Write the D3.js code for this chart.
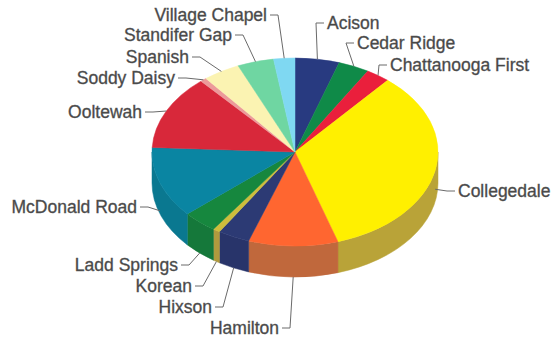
<!DOCTYPE html>
<html>
<head>
<meta charset="utf-8">
<script src="https://cdn.jsdelivr.net/npm/d3@7/dist/d3.min.js"></script>
<style>
  html, body { margin: 0; padding: 0; background: #fff; }
  svg { display: block; }
  .lbl { font-family: "Liberation Sans", Arial, sans-serif; font-size: 17.5px; fill: #464646; stroke: #5a5a5a; stroke-width: 0.35px; }
  .leader { fill: none; stroke: #6a6a6a; stroke-width: 1; }
</style>
</head>
<body>
<svg id="chart" width="551" height="338"></svg>
<script>
// Congregations, clockwise from 12 o'clock
const categories = [
  "Acison", "Cedar Ridge", "Chattanooga First", "Collegedale", "Hamilton",
  "Hixson", "Korean", "Ladd Springs", "McDonald Road", "Ooltewah",
  "Soddy Daisy", "Spanish", "Standifer Gap", "Village Chapel"
];
// Share of total (%)
const shares = [5.0, 3.5, 2.7, 33.9, 10.1, 3.6, 0.8, 3.9, 12.2, 12.8, 0.7, 4.2, 4.1, 2.4];

const topColors = [
  "#283a80", "#0f8a48", "#ea1f3c", "#fff000", "#ff6630",
  "#2c3a74", "#cdbd3c", "#16873e", "#0a85a2", "#d8283a",
  "#ec9a9a", "#fbf3b2", "#6fd6a2", "#7fd8f2"
];
const sideColors = [
  "#1f2f6a", "#0c7038", "#b81a30", "#b9a338", "#c0683c",
  "#28346a", "#b09a3e", "#15783a", "#0a7890", "#a82030",
  "#c07a7a", "#cfc890", "#52b080", "#5fb0c8"
];

// Label placement: x is the text edge next to the leader, y the text middle
const labelLayout = [
  { name: "Acison",            x: 327, y: 23,  side: "right" },
  { name: "Cedar Ridge",       x: 357, y: 43,  side: "right" },
  { name: "Chattanooga First", x: 390, y: 65,  side: "right" },
  { name: "Collegedale",       x: 458, y: 191, side: "right", drop: 0.6 },
  { name: "Hamilton",          x: 279, y: 328, side: "left",  drop: 1 },
  { name: "Hixson",            x: 212, y: 307, side: "left",  drop: 1 },
  { name: "Korean",            x: 192, y: 286, side: "left",  drop: 1 },
  { name: "Ladd Springs",      x: 178, y: 265, side: "left",  drop: 1 },
  { name: "McDonald Road",     x: 137, y: 207, side: "left",  drop: 0.9 },
  { name: "Ooltewah",          x: 142, y: 112, side: "left" },
  { name: "Soddy Daisy",       x: 175, y: 78,  side: "left" },
  { name: "Spanish",           x: 189, y: 57,  side: "left" },
  { name: "Standifer Gap",     x: 232, y: 35,  side: "left" },
  { name: "Village Chapel",    x: 267, y: 15,  side: "left" }
];

const cx = 295, cy = 152, rx = 143, ry = 94, depth = 31;

const svg = d3.select("#chart");

const topColor = d3.scaleOrdinal(categories, topColors);
const sideColor = d3.scaleOrdinal(categories, sideColors);

const data = categories.map((c, i) => ({ name: c, value: shares[i] }));
const arcs = d3.pie().sort(null).value(d => d.value).startAngle(0).endAngle(2 * Math.PI)(data);

// Point on the tilted rim for angle a (clockwise from top)
function pt(a, dy = 0) {
  return [cx + rx * Math.sin(a), cy - ry * Math.cos(a) + dy];
}

function topPath(a0, a1) {
  const p0 = pt(a0), p1 = pt(a1);
  const large = (a1 - a0) > Math.PI ? 1 : 0;
  return `M${cx},${cy}L${p0[0]},${p0[1]}A${rx},${ry} 0 ${large} 1 ${p1[0]},${p1[1]}Z`;
}

function sidePath(a0, a1) {
  const s0 = Math.max(a0, Math.PI / 2), s1 = Math.min(a1, 3 * Math.PI / 2);
  if (s1 <= s0) return null;
  const p0 = pt(s0), p1 = pt(s1), q1 = pt(s1, depth), q0 = pt(s0, depth);
  return `M${p0[0]},${p0[1]}A${rx},${ry} 0 0 1 ${p1[0]},${p1[1]}` +
         `L${q1[0]},${q1[1]}A${rx},${ry} 0 0 0 ${q0[0]},${q0[1]}Z`;
}

// Outer walls first, then the top faces
svg.append("g").selectAll("path")
  .data(arcs.filter(d => sidePath(d.startAngle, d.endAngle)))
  .join("path")
  .attr("d", d => sidePath(d.startAngle, d.endAngle))
  .attr("fill", d => sideColor(d.data.name))
  .attr("stroke", d => sideColor(d.data.name))
  .attr("stroke-width", 0.5);

svg.append("g").selectAll("path")
  .data(arcs)
  .join("path")
  .attr("d", d => topPath(d.startAngle, d.endAngle))
  .attr("fill", d => topColor(d.data.name))
  .attr("stroke", d => topColor(d.data.name))
  .attr("stroke-width", 0.5);

// Labels with elbow leader lines
const byName = new Map(arcs.map(d => [d.data.name, d]));
const gl = svg.append("g");
labelLayout.forEach(l => {
  const d = byName.get(l.name);
  const mid = (d.startAngle + d.endAngle) / 2;
  const end = pt(mid, depth * (l.drop || 0));
  const dir = l.side === "right" ? -1 : 1;
  const tx = l.x + dir * 3;
  const ex = l.x + dir * 11;
  gl.append("path")
    .attr("class", "leader")
    .attr("d", `M${tx},${l.y}L${ex},${l.y}L${end[0]},${end[1]}`);
  gl.append("text")
    .attr("class", "lbl")
    .attr("x", l.x)
    .attr("y", l.y)
    .attr("dy", "0.35em")
    .attr("text-anchor", l.side === "right" ? "start" : "end")
    .text(l.name);
});
</script>
</body>
</html>
